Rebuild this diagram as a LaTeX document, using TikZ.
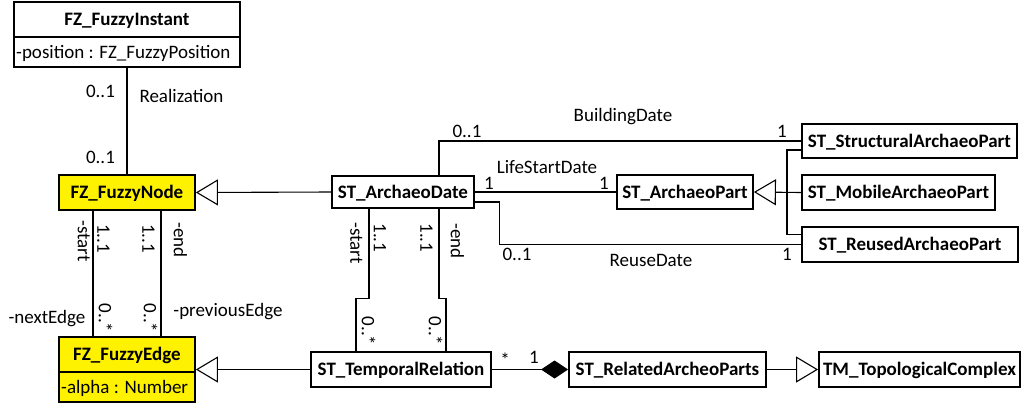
\documentclass[tikz,border=0pt]{standalone}
\usepackage{fontspec}
\setmainfont{Carlito}
\usetikzlibrary{arrows.meta}
\begin{document}
\begin{tikzpicture}[x=1pt,y=-1pt,
 cls/.style={draw, line width=1.8pt, inner sep=0pt, font=\fontsize{19}{22}\selectfont\bfseries, minimum height=35pt, text height=12.2pt, text depth=0pt},
 lbl/.style={inner sep=0pt, font=\fontsize{19}{22}\selectfont, text height=12.2pt, text depth=0pt},
 ttl/.style={lbl, font=\fontsize{19}{22}\selectfont\bfseries},
 conn/.style={line width=1.1pt},
 gen/.style={conn, -{Triangle[open, length=22pt, width=26pt, line width=1.1pt]}},
 comp/.style={conn, -{Diamond[length=27pt, width=18pt]}},
 fuzzy/.style={fill=yellow}]
\useasboundingbox (0,0) rectangle (1023,405);

% classes
\node[cls, minimum width=226pt, minimum height=65pt] (fi) at (127,34.5) {};
\node[ttl] (fit) at (127,19.5) {FZ\_FuzzyInstant};
\draw[line width=1.8pt] ([yshift=-2.5pt]fi.west) -- ([yshift=-2.5pt]fi.east);
\node[lbl, anchor=west] (fia) at (16,52) {-position : FZ\_FuzzyPosition};

\node[cls, fuzzy, minimum width=136pt] (fn) at (127,192.5) {FZ\_FuzzyNode};

\node[cls, fuzzy, minimum width=136pt, minimum height=65pt] (fe) at (127,369.5) {};
\node[ttl] (fet) at (127,354.5) {FZ\_FuzzyEdge};
\draw[line width=1.8pt] ([yshift=-2.5pt]fe.west) -- ([yshift=-2.5pt]fe.east);
\node[lbl, anchor=west] (fea) at (61,387) {-alpha : Number};

\node[cls, minimum width=142pt, minimum height=32pt] (ad) at (403,192) {ST\_ArchaeoDate};
\node[cls, minimum width=136pt, minimum height=34pt] (ap) at (685,192) {ST\_ArchaeoPart};
\node[cls, minimum width=215pt, minimum height=34pt] (sap) at (909.5,141) {ST\_StructuralArchaeoPart};
\node[cls, minimum width=193pt] (map) at (898.5,192.5) {ST\_MobileArchaeoPart};
\node[cls, minimum width=216pt] (rap) at (910,244.5) {ST\_ReusedArchaeoPart};
\node[cls, minimum width=180pt] (tr) at (401,369.5) {ST\_TemporalRelation};
\node[cls, minimum width=197pt] (rp) at (667.5,369.5) {ST\_RelatedArcheoParts};
\node[cls, minimum width=201pt] (tm) at (919.5,369.5) {TM\_TopologicalComplex};

% connectors
\draw[conn] (fi.south) -- (fn.north);
\draw[conn] ([xshift=-34pt]fn.south) -- ([xshift=-34pt]fe.north);
\draw[conn] ([xshift=34pt]fn.south) -- ([xshift=34pt]fe.north);
\draw[gen] (ad.west) -- (fn.east);
\draw[gen] (tr.west) -- (fe.east);
\draw[conn] ([xshift=36pt]ad.north) |- (sap.west);
\draw[conn] (ad.east) -- (ap.west);
\draw[conn] ([yshift=-10pt]ad.east) -- ++(25,0) |- (rap.west);
\draw[conn] ([xshift=-34pt]ad.south) -- ++(0,90) -| ([xshift=-45pt]tr.north);
\draw[conn] ([xshift=36pt]ad.south) -- ++(0,90) -| ([xshift=45pt]tr.north);
\draw[gen] (map.west) -- (ap.east);
\coordinate (j) at (787,192.5);
\draw[conn] ([yshift=-9pt]sap.west) -| (j) |- ([yshift=10pt]rap.west);
\draw[comp] (tr.east) -- (rp.west);
\draw[gen] (rp.east) -- (tm.west);

% labels
\node[lbl] (l1) at (100.5,91) {0..1};
\node[lbl] (l2) at (181.5,96) {Realization};
\node[lbl] (l3) at (100.5,157) {0..1};
\node[lbl, rotate=-90] (l4) at (84,241) {-start};
\node[lbl, rotate=-90] (l5) at (103.5,238.5) {1..1};
\node[lbl, rotate=-90] (l6) at (148.5,238.5) {1..1};
\node[lbl, rotate=-90] (l7) at (180,240) {-end};
\node[lbl, rotate=-90] (l8) at (105,318) {0..*};
\node[lbl, rotate=-90] (l9) at (150,318) {0..*};
\node[lbl] (l10) at (47,317) {-nextEdge};
\node[lbl] (l11) at (228,310) {-previousEdge};

\node[lbl, rotate=-90] (m1) at (356.5,243) {-start};
\node[lbl, rotate=-90] (m2) at (380,238) {1..1};
\node[lbl, rotate=-90] (m3) at (426.5,238) {1..1};
\node[lbl, rotate=-90] (m4) at (457,241) {-end};
\node[lbl, rotate=-90] (m5) at (368,331) {0..*};
\node[lbl, rotate=-90] (m6) at (435,331) {0..*};
\node[lbl] (m7) at (505,360) {*};
\node[lbl] (m8) at (534,357) {1};

\node[lbl] (b1) at (467,131) {0..1};
\node[lbl] (b2) at (623,115) {BuildingDate};
\node[lbl] (b3) at (782,131) {1};
\node[lbl] (c1) at (547,167) {LifeStartDate};
\node[lbl] (c2) at (489,183) {1};
\node[lbl] (c3) at (604,183) {1};
\node[lbl] (d1) at (517,254) {0..1};
\node[lbl] (d2) at (651,260) {ReuseDate};
\node[lbl] (d3) at (787,254) {1};
\end{tikzpicture}
\end{document}
